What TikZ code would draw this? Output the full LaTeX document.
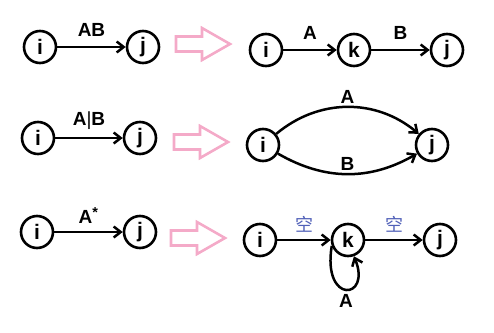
\documentclass[tikz,border=0pt]{standalone}
\usepackage{fontspec}
\setmainfont{Liberation Sans}
\newfontfamily\cjk{Noto Sans CJK SC}
\usetikzlibrary{arrows.meta}
\definecolor{hollowpink}{RGB}{244,170,200}
\definecolor{kongblue}{RGB}{80,96,184}
\tikzset{
  st/.style  ={draw, circle, line width=2.6pt, minimum size=32pt, inner sep=0pt,
               font=\fontsize{21}{23}\selectfont\bfseries},
  tr/.style  ={-{Straight Barb[length=7pt,width=11pt]}, line width=2.5pt},
  lbl/.style ={font=\fontsize{19}{21}\selectfont\bfseries, inner sep=1pt},
  eps/.style ={font=\cjk\fontsize{18}{20}\selectfont, text=kongblue, inner sep=1pt},
  fat/.pic   ={\draw[hollowpink, line width=2.6pt, line join=miter]
               (-27,-7.5) -- (-1,-7.5) -- (-1,-16) -- (27,0) -- (-1,16)
               -- (-1,7.5) -- (-27,7.5) -- cycle;},
}

\begin{document}
\begin{tikzpicture}[x=1pt, y=-1pt]
\useasboundingbox (0,0) rectangle (494,332);

% ---- concatenation AB -------------------------------------------------
\node[st] (ia) at (40,47) {i};
\node[st] (ja) at (143,47) {j};
\draw[tr] (ia) -- node[lbl, above=8pt] {AB} (ja);
\pic at (203,44) {fat};
\node[st] (ia2) at (266,50) {i};
\node[st] (ka2) at (354,50) {k};
\node[st] (ja2) at (447,50) {j};
\draw[tr] (ia2) -- node[lbl, above=8pt] {A} (ka2);
\draw[tr] (ka2) -- node[lbl, above=8pt] {B} (ja2);

% ---- union A|B --------------------------------------------------------
\node[st] (ib) at (38,138) {i};
\node[st] (jb) at (140,138) {j};
\draw[tr] (ib) -- node[lbl, above=6pt] {A\textmd{|}B} (jb);
\pic at (201,142) {fat};
\node[st] (ib2) at (263,145) {i};
\node[st] (jb2) at (432,145) {j};
\draw[tr] (ib2) to[bend left=40] node[lbl, above=1pt] {A} (jb2);
\draw[tr] (ib2) to[bend right=30] node[lbl, above=1pt] {B} (jb2);

% ---- closure A* -------------------------------------------------------
\node[st] (ic) at (37,232) {i};
\node[st] (jc) at (140,232) {j};
\draw[tr] (ic) -- node[lbl, above=6pt] {A\textsuperscript{\Large*}} (jc);
\pic at (198,238) {fat};
\node[st] (ic2) at (260,240) {i};
\node[st] (kc2) at (348,240) {k};
\node[st] (jc2) at (440,240) {j};
\draw[tr] (ic2) -- node[eps, above=5pt] {空} (kc2);
\draw[tr] (kc2) -- node[eps, above=5pt] {空} (jc2);
\draw[tr] (kc2.200) .. controls (322,305) and (372,300) .. (kc2.290)
      node[lbl, pos=0.5, below=3pt] {A};

\end{tikzpicture}
\end{document}
